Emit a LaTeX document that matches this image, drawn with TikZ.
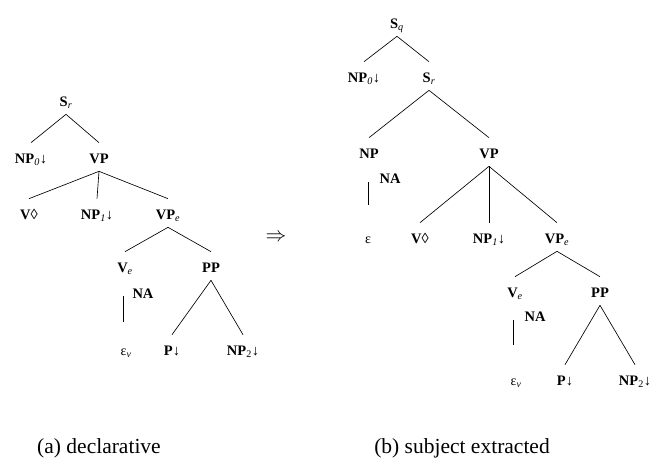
\documentclass[tikz,border=0pt]{standalone}
\usepackage{fontspec}
\setmainfont{Liberation Serif}
\newcommand\lsub[1]{\textsubscript{\normalfont\itshape #1}}
\newcommand\subst{{\normalfont ↓}}

\begin{document}
\begin{tikzpicture}[x=1pt, y=-1pt, line width=0.65pt,
        cat/.style={font=\fontsize{14.5}{16}\selectfont\bfseries, inner sep=3pt,
                    text height=17.3pt, text depth=4.7pt},
        emp/.style={cat, font=\fontsize{14}{16}\selectfont},
        subcap/.style={font=\fontsize{21.5}{24}\selectfont, inner sep=0pt}]
    \useasboundingbox (0,0) rectangle (657,471);

    % (a) declarative
    \node[cat] (lSr)  at (66,100)  {S\lsub{r}};
    \node[cat] (lNPz) at (31,157)  {NP\lsub{0}\subst};
    \node[cat] (lVP)  at (99,157)  {VP};
    \node[cat] (lV)   at (29,213)  {V{\normalfont ◊}};
    \node[cat] (lNPo) at (97,213)  {NP\lsub{1}\subst};
    \node[cat] (lVPe) at (168,213) {VP\lsub{e}};
    \node[cat] (lVe)  at (125,266) {V\lsub{e}};
    \node[cat] (lPP)  at (211,266) {PP};
    \node[cat] (lNA)  at (143,292) {NA};
    \node[emp] (lEps) at (126,349) {ε\lsub{v}};
    \node[cat] (lP)   at (172,349) {P\subst};
    \node[cat] (lNPt) at (243,349) {NP\textsubscript{\normalfont 2}\subst};
    \coordinate (lBarT) at (123,296);
    \coordinate (lBarB) at (123,322);

    \foreach \a/\b in {lSr/lNPz, lSr/lVP, lVP/lV, lVP/lNPo, lVP/lVPe,
                       lVPe/lVe, lVPe/lPP, lPP/lP, lPP/lNPt}
        \draw (\a.south) -- (\b.north);
    \draw (lBarT) -- (lBarB);

    \node[font=\fontsize{22}{24}\selectfont] (impl) at (276,238) {$\Rightarrow$};

    % (b) subject extracted
    \node[cat] (rSq)   at (397,22)  {S\lsub{q}};
    \node[cat] (rNPz)  at (364,76)  {NP\lsub{0}\subst};
    \node[cat] (rSr)   at (429,76)  {S\lsub{r}};
    \node[cat] (rNP)   at (369,152) {NP};
    \node[cat] (rVP)   at (489,152) {VP};
    \node[cat] (rNA)   at (390,177) {NA};
    \node[emp] (rEps)  at (368,237) {ε};
    \node[cat] (rV)    at (420,237) {V{\normalfont ◊}};
    \node[cat] (rNPo)  at (489,237) {NP\lsub{1}\subst};
    \node[cat] (rVPe)  at (557,237) {VP\lsub{e}};
    \node[cat] (rVe)   at (515,291) {V\lsub{e}};
    \node[cat] (rPP)   at (600,291) {PP};
    \node[cat] (rNAb)  at (535,315) {NA};
    \node[emp] (rEpsv) at (516,379) {ε\lsub{v}};
    \node[cat] (rP)    at (565,379) {P\subst};
    \node[cat] (rNPt)  at (635,379) {NP\textsubscript{\normalfont 2}\subst};
    \coordinate (rBarT)  at (368,182);
    \coordinate (rBarB)  at (368,205);
    \coordinate (rBarbT) at (513,320);
    \coordinate (rBarbB) at (513,345);

    \foreach \a/\b in {rSq/rNPz, rSq/rSr, rSr/rNP, rSr/rVP, rVP/rV, rVP/rNPo,
                       rVP/rVPe, rVPe/rVe, rVPe/rPP, rPP/rP, rPP/rNPt}
        \draw (\a.south) -- (\b.north);
    \draw (rBarT) -- (rBarB);
    \draw (rBarbT) -- (rBarbB);

    \node[subcap] (capA) at (99,448)  {(a) declarative};
    \node[subcap] (capB) at (462,448) {(b) subject extracted};
\end{tikzpicture}
\end{document}
